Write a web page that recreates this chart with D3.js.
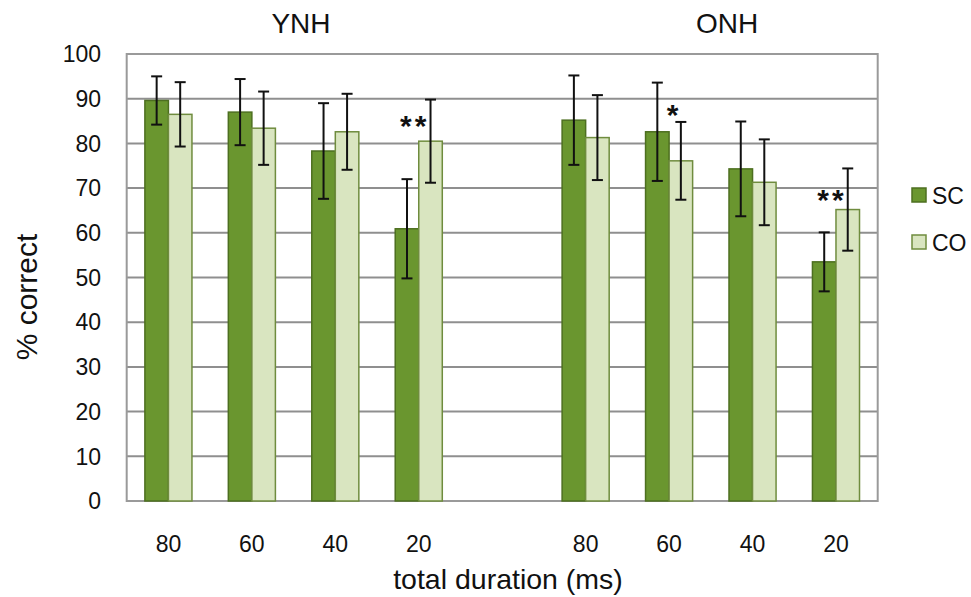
<!DOCTYPE html>
<html>
<head>
<meta charset="utf-8">
<script src="https://cdn.jsdelivr.net/npm/d3@7"></script>
<style>
  html, body { margin: 0; padding: 0; background: #fff; }
  svg { display: block; font-family: Arial, "Liberation Sans", sans-serif; }
</style>
</head>
<body>
<svg id="chart" width="971" height="597"></svg>
<script>
// ---- data ----
const groups = ["YNH", "ONH"];
const durations = ["80", "60", "40", "20"];
const slots = ["YNH-80", "YNH-60", "YNH-40", "YNH-20", "gap", "ONH-80", "ONH-60", "ONH-40", "ONH-20"];
const seriesNames = ["SC", "CO"];
const scMean = [89.6, 87.0, 78.3, 60.9, 85.2, 82.6, 74.3, 53.5];
const scErr  = [5.4, 7.4, 10.7, 11.1, 10.0, 11.0, 10.6, 6.6];
const coMean = [86.5, 83.4, 82.6, 80.5, 81.3, 76.1, 71.3, 65.2];
const coErr  = [7.2, 8.2, 8.5, 9.3, 9.5, 8.7, 9.6, 9.2];
const yTicks = [0, 10, 20, 30, 40, 50, 60, 70, 80, 90, 100];
// significance markers: slot index, label, level (data units)
const sigSlots = [3, 5, 7];
const sigLabels = ["**", "*", "**"];
const sigLevels = [84.6, 87.0, 68.0];

// ---- layout ----
const svg = d3.select("#chart");
const mLeft = 126.7, mRight = 877.7, mTop = 54, mBottom = 501;
const colors = { SC: "#6a962f", CO: "#d9e5c0" };
const strokes = { SC: "#4d6f20", CO: "#6f8c3e" };
const titleX = [301, 727];

const x = d3.scaleBand().domain(slots).range([mLeft, mRight]).padding(0);
const y = d3.scaleLinear().domain([0, 100]).range([mBottom, mTop]);
const barW = x.bandwidth() * 0.282;

const dataSlots = slots.filter(s => s !== "gap");
const rows = dataSlots.map((s, i) => ({
  slot: s, label: durations[i % 4],
  SC: scMean[i], SCe: scErr[i], CO: coMean[i], COe: coErr[i]
}));

// gridlines
svg.append("g").selectAll("line").data(yTicks.filter(t => t > 0 && t < 100)).join("line")
  .attr("x1", mLeft).attr("x2", mRight)
  .attr("y1", d => y(d)).attr("y2", d => y(d))
  .attr("stroke", "#8f8f8f").attr("stroke-width", 2);

// plot frame
svg.append("rect").attr("x", mLeft).attr("y", mTop)
  .attr("width", mRight - mLeft).attr("height", mBottom - mTop)
  .attr("fill", "none").attr("stroke", "#9a9a9a").attr("stroke-width", 2);

// bars
const gBars = svg.append("g");
rows.forEach(r => {
  const cx = x(r.slot) + x.bandwidth() / 2;
  seriesNames.forEach((s, k) => {
    const x0 = k === 0 ? cx - barW : cx;
    gBars.append("rect")
      .attr("x", x0).attr("y", y(r[s]))
      .attr("width", barW).attr("height", y(0) - y(r[s]))
      .attr("fill", colors[s]).attr("stroke", strokes[s]).attr("stroke-width", 1.5);
  });
});

// error bars
const gErr = svg.append("g").attr("stroke", "#111").attr("stroke-width", 2);
rows.forEach(r => {
  const cx = x(r.slot) + x.bandwidth() / 2;
  seriesNames.forEach((s, k) => {
    const ex = k === 0 ? cx - barW / 2 : cx + barW / 2;
    const hi = y(r[s] + r[s + "e"]), lo = y(r[s] - r[s + "e"]);
    gErr.append("line").attr("x1", ex).attr("x2", ex).attr("y1", hi).attr("y2", lo);
    gErr.append("line").attr("x1", ex - 5.5).attr("x2", ex + 5.5).attr("y1", hi).attr("y2", hi);
    gErr.append("line").attr("x1", ex - 5.5).attr("x2", ex + 5.5).attr("y1", lo).attr("y2", lo);
  });
});

// significance stars
sigSlots.forEach((si, i) => {
  const s = dataSlots[si];
  const cx = x(s) + x.bandwidth() / 2;
  svg.append("text")
    .attr("x", cx + (sigLabels[i].length === 1 ? 5 : -4)).attr("y", y(sigLevels[i]) + 13)
    .attr("text-anchor", "middle")
    .attr("font-size", 30).attr("font-weight", "bold").attr("letter-spacing", 3)
    .attr("fill", "#111").text(sigLabels[i]);
});

// y tick labels
svg.append("g").selectAll("text").data(yTicks).join("text")
  .attr("x", 101).attr("y", d => y(d))
  .attr("dy", "0.36em").attr("text-anchor", "end")
  .attr("font-size", 23).attr("fill", "#111").text(d => d);

// x tick labels
svg.append("g").selectAll("text").data(rows).join("text")
  .attr("x", d => x(d.slot) + x.bandwidth() / 2).attr("y", 552)
  .attr("text-anchor", "middle").attr("font-size", 23).attr("fill", "#111")
  .text(d => d.label);

// group titles
groups.forEach((g, i) => {
  svg.append("text")
    .attr("x", titleX[i]).attr("y", 33)
    .attr("text-anchor", "middle").attr("font-size", 28).attr("fill", "#111").text(g);
});

// axis titles
svg.append("text").attr("x", 508).attr("y", 589)
  .attr("text-anchor", "middle").attr("font-size", 28.5).attr("fill", "#111")
  .text("total duration (ms)");
svg.append("text")
  .attr("transform", "translate(37,297) rotate(-90)")
  .attr("text-anchor", "middle").attr("font-size", 30).attr("fill", "#111")
  .text("% correct");

// legend
seriesNames.forEach((s, i) => {
  const ly = 188 + i * 47;
  svg.append("rect").attr("x", 912).attr("y", ly).attr("width", 14).attr("height", 14)
    .attr("fill", colors[s]).attr("stroke", strokes[s]).attr("stroke-width", 1.5);
  svg.append("text").attr("x", 932).attr("y", ly + 16)
    .attr("font-size", 23).attr("fill", "#111").text(s);
});
</script>
</body>
</html>
